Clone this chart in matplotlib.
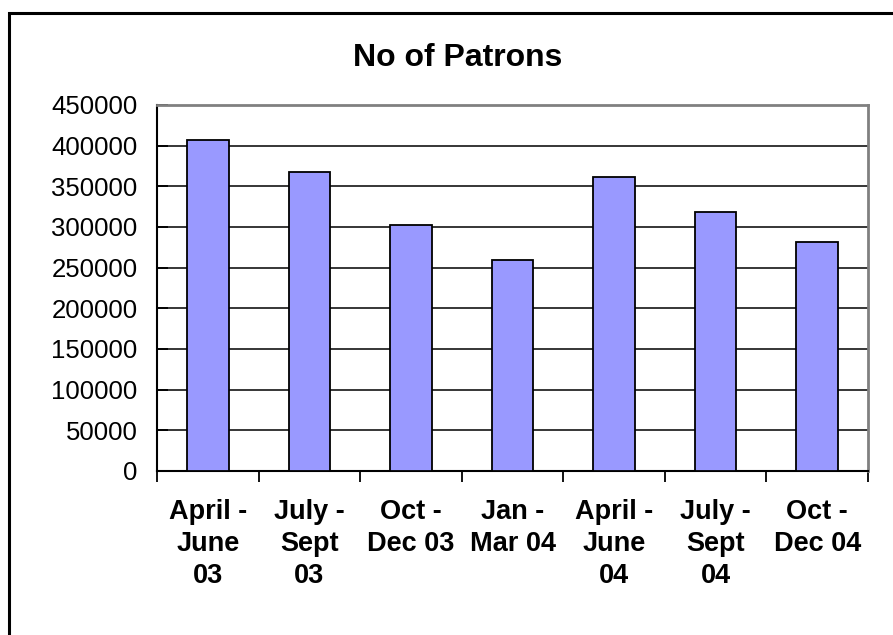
import matplotlib
matplotlib.use("Agg")
import matplotlib.pyplot as plt
from matplotlib.patches import Rectangle

periods = ["April -\nJune\n03", "July -\nSept\n03", "Oct -\nDec 03", "Jan -\nMar 04",
           "April -\nJune\n04", "July -\nSept\n04", "Oct -\nDec 04"]
patrons = [407000, 368000, 302000, 260000, 361000, 319000, 282000]
y_ticks = list(range(0, 450001, 50000))

plt.rcParams['font.family'] = ['Liberation Sans', 'DejaVu Sans']

fig = plt.figure(figsize=(8.93, 6.35), dpi=100)
ax = fig.add_axes([157 / 893, 1 - 471 / 635, (868 - 157) / 893, (471 - 105) / 635])

x = range(len(periods))
ax.bar(x, patrons, width=0.41, color='#9999FF', edgecolor='black', linewidth=1.3, zorder=3)

ax.set_ylim(0, 450000)
ax.set_xlim(-0.5, len(periods) - 0.5)
ax.set_yticks(y_ticks)
ax.set_yticklabels([str(v) for v in y_ticks], fontsize=18.5)
ax.yaxis.grid(True, color='black', linewidth=1.1, zorder=1)

# category boundaries for x ticks, labels centred between them
ax.set_xticks([i - 0.5 for i in range(len(periods) + 1)])
ax.set_xticklabels([])
ax.set_xticks(list(x), minor=True)
ax.set_xticklabels(periods, minor=True, fontsize=19.5, fontweight='bold', linespacing=1.3)
ax.tick_params(axis='x', which='major', direction='out', length=8, width=1.3)
ax.tick_params(axis='x', which='minor', length=0, pad=20)
ax.tick_params(axis='y', direction='in', length=8, width=1.3, pad=14)

for side in ['left', 'bottom']:
    ax.spines[side].set_color('black')
    ax.spines[side].set_linewidth(1.5)
for side in ['top', 'right']:
    ax.spines[side].set_color('#808080')
    ax.spines[side].set_linewidth(2)

fig.text(458 / 893, 1 - 66 / 635, "No of Patrons", fontsize=23, fontweight='bold',
         ha='center', va='baseline')

# outer chart border (only left and top fall inside the picture)
fig.patches.append(Rectangle((9 / 893, -0.1), 1.2, 1 - 13 / 635 + 0.1, transform=fig.transFigure,
                             fill=False, edgecolor='black', linewidth=2.2))

fig.savefig("out.png", dpi=100)
